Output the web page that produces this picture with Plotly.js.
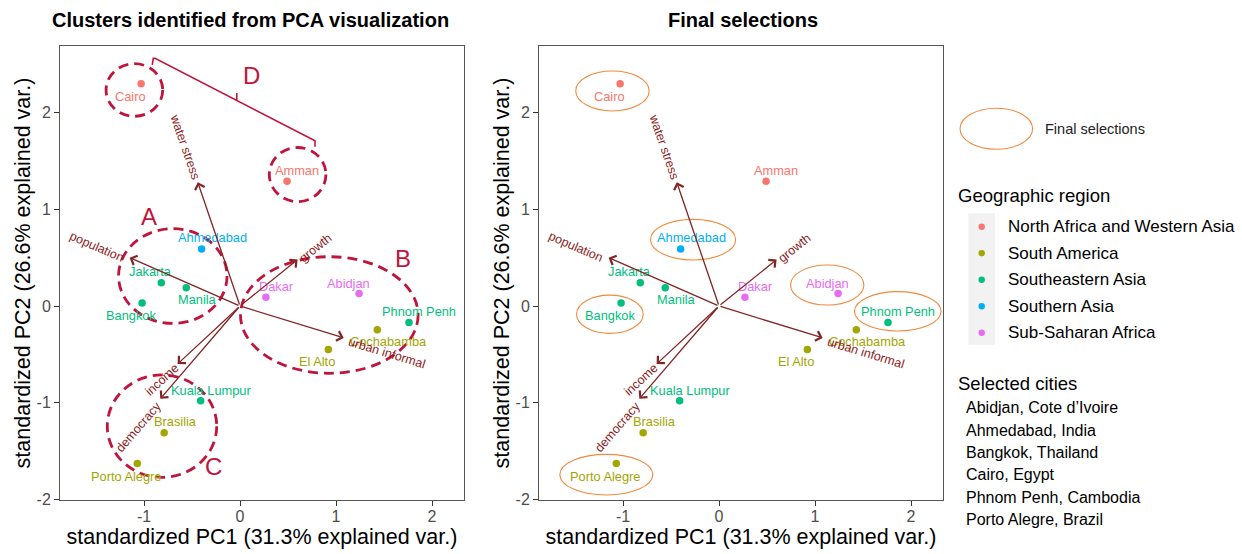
<!DOCTYPE html>
<html><head><meta charset="utf-8">
<script src="https://cdn.plot.ly/plotly-3.0.1.min.js"></script>
<style>html,body{margin:0;padding:0;background:#fff}#chart{width:1242px;height:554px}</style>
</head><body><div id="chart"></div>
<script>
// ---------------- data ----------------
const cities = ['Cairo','Amman','Ahmedabad','Jakarta','Manila','Bangkok','Dakar','Abidjan','Phnom Penh','Cochabamba','El Alto','Kuala Lumpur','Brasilia','Porto Alegre'];
const pc1 = [-1.03, 0.49, -0.40, -0.82, -0.56, -1.02, 0.27, 1.24, 1.76, 1.43, 0.92, -0.41, -0.79, -1.07];
const pc2 = [2.30, 1.29, 0.59, 0.24, 0.19, 0.03, 0.09, 0.13, -0.17, -0.245, -0.45, -0.98, -1.31, -1.63];
const cityRegion = ['North Africa and Western Asia','North Africa and Western Asia','Southern Asia','Southeastern Asia','Southeastern Asia','Southeastern Asia','Sub-Saharan Africa','Sub-Saharan Africa','Southeastern Asia','South America','South America','Southeastern Asia','South America','South America'];
const regions = ['North Africa and Western Asia','South America','Southeastern Asia','Southern Asia','Sub-Saharan Africa'];
const variables = ['water stress','population','growth','urban informal','income','democracy'];
const loadX = [-0.44, -1.15, 0.60, 1.08, -0.65, -0.83];
const loadY = [1.28, 0.50, 0.48, -0.33, -0.60, -0.96];
const finalSelections = ['Cairo','Ahmedabad','Bangkok','Abidjan','Phnom Penh','Porto Alegre'];
const selectedCities = ['Abidjan, Cote d\u2019Ivoire','Ahmedabad, India','Bangkok, Thailand','Cairo, Egypt','Phnom Penh, Cambodia','Porto Alegre, Brazil'];
const clusterNames = ['A','B','C','D'];
const xTicks = [-1, 0, 1, 2];
const xTickText = ['-1', '0', '1', '2'];
const yTicks = [-2, -1, 0, 1, 2];
const yTickText = ['-2', '-1', '0', '1', '2'];

// ---------------- styles / positions ----------------
const regionColors = ['#F8766D','#A3A500','#00BF7D','#00B0F6','#E76BF3'];
const FONT = 'Liberation Sans, Arial, sans-serif';
const arrowColor = '#832424';
const varLabelColor = '#8B1A1A';
const clusterColor = '#C0143C';
const selColor = '#F08A3C';
// label nudges (px) for city labels
const nudgeX = [-11, 10, 11, -11, 11, -11, 11, -11, 10, 11, -11, 10, 11, -11];
const nudgeY = [-13, 11, 11, 11, -12, -12, 11, 10, 11, -12, -12, 10, 11, -13];
// variable label centres
const varLabX = [-0.57, -1.49, 0.79, 1.53, -0.816, -1.054];
const varLabY = [1.648, 0.615, 0.597, -0.481, -0.766, -1.254];
// cluster outline ellipses [cx, cy, rx, ry]
const clusterEllipses = [[-0.70,0.31,0.565,0.49],[0.93,-0.093,0.925,0.603],[-0.8125,-1.243,0.57,0.53],[-1.10,2.235,0.295,0.272],[0.60,1.36,0.295,0.28]];
const clusterLabelPos = [[-0.95,0.925],[1.695,0.49],[-0.28,-1.66],[0.12,2.38]];
const bracketPts = [[-0.914,2.494],[-0.903,2.563],[-0.885,2.563],[0.781,1.71],[0.781,1.648]];
const bracketTick = [[-0.034,2.127],[-0.034,2.204]];
// final-selection ellipses [cx, cy, rx, ry]
const selEllipses = [[-1.11,2.225,0.382,0.207],[-0.27,0.686,0.443,0.21],[-1.137,-0.085,0.347,0.198],[1.127,0.217,0.382,0.207],[1.862,-0.055,0.451,0.204],[-1.174,-1.745,0.484,0.21]];

const W = 1242, H = 554;
const px = v => v / W, py = v => 1 - v / H;

const traces = [];
const annotations = [];
const shapes = [];

[['x','y'],['x2','y2']].forEach(([xa, ya], pi) => {
  regions.forEach((r, ri) => {
    const idx = cities.map((c, i) => i).filter(i => cityRegion[i] === r);
    traces.push({
      type: 'scatter', mode: 'markers', xaxis: xa, yaxis: ya,
      x: idx.map(i => pc1[i]), y: idx.map(i => pc2[i]),
      text: idx.map(i => cities[i]), name: r, showlegend: false,
      marker: {color: regionColors[ri], size: 7.5},
      hoverinfo: 'text'
    });
  });
  cities.forEach((c, i) => {
    annotations.push({xref: xa, yref: ya, x: pc1[i], y: pc2[i], xshift: nudgeX[i], yshift: nudgeY[i],
      xanchor: 'center', yanchor: 'middle',
      text: c, showarrow: false, font: {family: FONT, size: 12.8, color: regionColors[regions.indexOf(cityRegion[i])]}});
  });
  variables.forEach((v, i) => {
    annotations.push({xref: xa, yref: ya, x: loadX[i], y: loadY[i], axref: xa, ayref: ya, ax: 0, ay: 0,
      text: '', showarrow: true, arrowhead: 4, arrowsize: 1.5, arrowwidth: 1.3, arrowcolor: arrowColor, standoff: 0});
    const ang = -Math.atan(loadY[i] / loadX[i]) * 180 / Math.PI;
    annotations.push({xref: xa, yref: ya, x: varLabX[i], y: varLabY[i], text: v, showarrow: false,
      xanchor: 'center', yanchor: 'middle',
      textangle: ang, font: {family: FONT, size: 12.5, color: varLabelColor}});
  });
});

// cluster ellipses (left)
clusterEllipses.forEach(e => {
  shapes.push({type: 'circle', xref: 'x', yref: 'y', x0: e[0]-e[2], x1: e[0]+e[2], y0: e[1]-e[3], y1: e[1]+e[3],
    line: {color: clusterColor, width: 2.8, dash: '10px,6px'}, layer: 'above'});
});
clusterNames.forEach((n, i) => {
  annotations.push({xref: 'x', yref: 'y', x: clusterLabelPos[i][0], y: clusterLabelPos[i][1], text: n, showarrow: false,
    xanchor: 'center', yanchor: 'middle',
    font: {family: FONT, size: 24, color: clusterColor}});
});
let bp = 'M' + bracketPts.map(p => p[0] + ',' + p[1]).join(' L') + ' M' + bracketTick.map(p => p[0] + ',' + p[1]).join(' L');
shapes.push({type: 'path', xref: 'x', yref: 'y', path: bp, line: {color: clusterColor, width: 1.6}, layer: 'above'});

// final selection ellipses (right)
selEllipses.forEach(e => {
  shapes.push({type: 'circle', xref: 'x2', yref: 'y2', x0: e[0]-e[2], x1: e[0]+e[2], y0: e[1]-e[3], y1: e[1]+e[3],
    line: {color: selColor, width: 1.1}, layer: 'above'});
});

function paperText(x, y, text, size, anchor, color) {
  annotations.push({xref: 'paper', yref: 'paper', x: px(x), y: py(y), xanchor: anchor, yanchor: 'middle',
    text: text, showarrow: false, font: {family: FONT, size: size, color: color || '#000'}});
}
// titles
paperText(250, 20.5, '<b>Clusters identified from PCA visualization</b>', 20, 'center');
paperText(743.3, 20.5, '<b>Final selections</b>', 20, 'center');

// legend: final selections
shapes.push({type: 'circle', xref: 'paper', yref: 'paper', x0: px(960), x1: px(1032.6), y0: py(149.3), y1: py(108.3),
  line: {color: selColor, width: 1.1}});
paperText(1042.7, 129, 'Final selections', 14.5, 'left', '#222');
// legend: geographic region
paperText(955.7, 195, 'Geographic region', 18.5, 'left');
shapes.push({type: 'rect', xref: 'paper', yref: 'paper', x0: px(968.3), x1: px(995), y0: py(345), y1: py(213.3),
  fillcolor: '#F2F2F2', line: {width: 0}, layer: 'below'});
regions.forEach((r, i) => {
  const yy = 226.7 + i * 26.5;
  shapes.push({type: 'circle', xref: 'paper', yref: 'paper', xsizemode: 'pixel', ysizemode: 'pixel',
    xanchor: px(981.7), yanchor: py(yy), x0: -3.2, x1: 3.2, y0: -3.2, y1: 3.2,
    fillcolor: regionColors[i], line: {width: 0}});
  paperText(1005.7, yy, r, 17, 'left');
});
// legend: selected cities
paperText(955.7, 383.3, 'Selected cities', 18.5, 'left');
selectedCities.forEach((c, i) => paperText(964, 407.7 + i * 22.4, c, 16, 'left'));

function xAxis(dom, anchor) {
  return {domain: dom, anchor: anchor, range: [-1.875, 2.333], tickvals: xTicks, ticktext: xTickText, ticks: 'outside', ticklen: 5,
    ticklabelstandoff: -3,
    tickcolor: '#333', tickfont: {family: FONT, size: 16, color: '#4D4D4D'}, showgrid: false, zeroline: false,
    showline: true, mirror: true, linecolor: '#555', linewidth: 1,
    title: {text: 'standardized PC1 (31.3% explained var.)', font: {family: FONT, size: 21.5, color: '#000'}, standoff: 0}};
}
function yAxis(anchor) {
  return {domain: [py(500), py(46)], anchor: anchor, range: [-2.007, 2.69], tickvals: yTicks, ticktext: yTickText, ticks: 'outside', ticklen: 5,
    tickcolor: '#333', tickfont: {family: FONT, size: 16, color: '#4D4D4D'}, showgrid: false, zeroline: false,
    showline: true, mirror: true, linecolor: '#555', linewidth: 1,
    title: {text: 'standardized PC2 (26.6% explained var.)', font: {family: FONT, size: 21.5, color: '#000'}, standoff: 0}};
}

const layout = {
  width: W, height: H, margin: {l: 0, r: 0, t: 0, b: 0},
  paper_bgcolor: '#fff', plot_bgcolor: '#fff', showlegend: false,
  xaxis: xAxis([px(60), px(464)], 'y'), yaxis: yAxis('x'),
  xaxis2: xAxis([px(539), px(943)], 'y2'), yaxis2: yAxis('x2'),
  annotations: annotations, shapes: shapes
};
Plotly.newPlot('chart', traces, layout, {displayModeBar: false, staticPlot: true});
</script></body></html>
